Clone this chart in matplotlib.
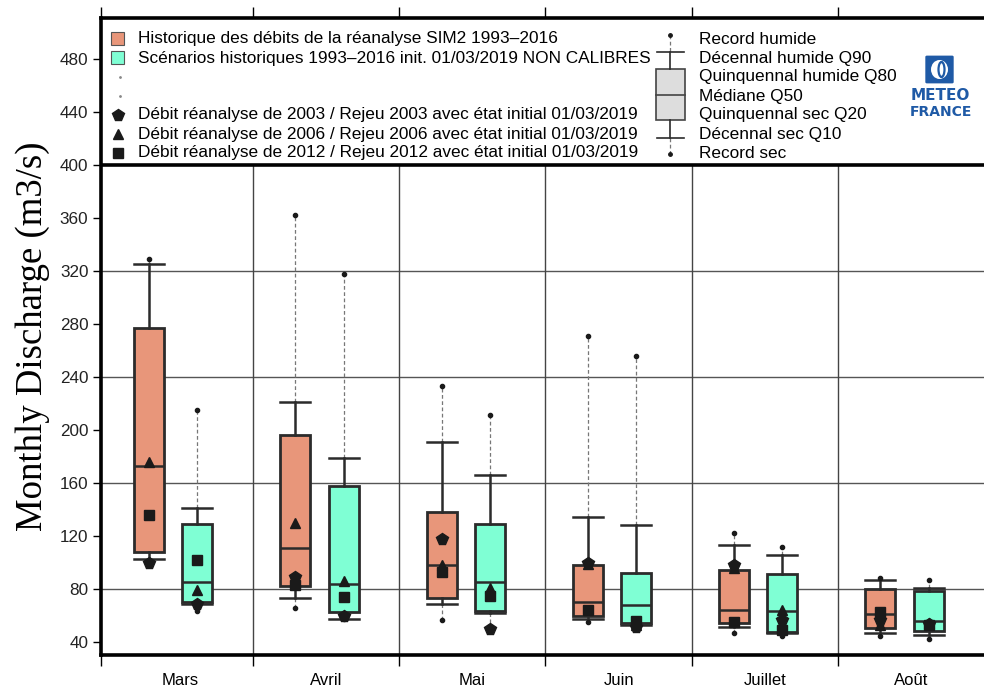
import matplotlib
matplotlib.use("Agg")
import matplotlib.pyplot as plt
from matplotlib.patches import Rectangle, FancyBboxPatch, Ellipse
from matplotlib.lines import Line2D

# ---------------- data ----------------
months = ['Mars', 'Avril', 'Mai', 'Juin', 'Juillet', 'Août']

# Historique réanalyse SIM2 1993-2016 (orange)
rea_rec_max = [329, 362, 233, 271, 122, 88.5]
rea_q90 = [325, 221, 191, 134, 113, 87]
rea_q80 = [277, 196, 138, 98, 94, 80]
rea_q50 = [173, 111, 98, 70, 64, 61]
rea_q20 = [108, 82, 73.5, 60, 54, 50.5]
rea_q10 = [103, 73, 69, 57, 51.5, 46.5]
rea_rec_min = [99, 66, 56.5, 55, 47, 44.5]
rea_2003 = [100, 89, 118, 100, 98, 56.5]
rea_2006 = [176, 130, 98, 99, 96, 53]
rea_2012 = [136, 83, 93, 64, 55, 63]

# Scénarios historiques init. 01/03/2019 (turquoise)
sc_rec_max = [215, 318, 211, 256, 112, 87]
sc_q90 = [141, 179, 166, 128.5, 106, 81]
sc_q80 = [129, 158, 129, 92, 91, 78.5]
sc_q50 = [85, 84, 85.5, 68, 63.5, 56]
sc_q20 = [70.5, 63, 63.5, 54, 47.5, 48]
sc_q10 = [69, 57.5, 62, 53, 46.5, 45.5]
sc_rec_min = [63.5, 57, 49.5, 52, 44.5, 42]
sc_2003 = [68.5, 60, 50, 51.5, 56.5, 53.5]
sc_2006 = [79, 86, 81, 53, 64, 54]
sc_2012 = [102, 74, 75, 56, 49, 53]

yticks = [40, 80, 120, 160, 200, 240, 280, 320, 360, 400, 440, 480]

ORANGE = '#E8967A'
TEAL = '#7FFFD4'
EDGE = '#2b2b2b'
FONT = 'Liberation Sans'

W, H = 984, 690
fig = plt.figure(figsize=(W / 100, H / 100), dpi=100)

def fx(x):
    return x / W

def fy(y):
    return 1 - y / H

ax_left, ax_right, ax_top, ax_bot = 101, 984, 18, 655
ax = fig.add_axes([fx(ax_left), fy(ax_bot), (ax_right - ax_left) / W, (ax_bot - ax_top) / H])
ax.set_xlim(-0.539, 5.498)
ax.set_ylim(30.2, 510.9)

# grid
for g in [80, 160, 240, 320]:
    ax.axhline(g, color='#555555', lw=1.0, zorder=0)
ax.vlines([0.5, 1.5, 2.5, 3.5, 4.5], 30.2, 400, color='#444444', lw=1.0, zorder=0)
ax.axhline(400, color='black', lw=2.6, zorder=1)

bw = 0.205

def draw_series(offset, color, rmax, q90, q80, q50, q20, q10, rmin, y03, y06, y12):
    stats = []
    pos = []
    for i in range(len(months)):
        stats.append(dict(med=q50[i], q1=q20[i], q3=q80[i], whislo=q10[i], whishi=q90[i], fliers=[]))
        pos.append(i + offset)
    ax.bxp(stats, positions=pos, widths=bw, patch_artist=True, showfliers=False,
           boxprops=dict(facecolor=color, edgecolor=EDGE, linewidth=2.0),
           medianprops=dict(color=EDGE, linewidth=1.8),
           whiskerprops=dict(color=EDGE, linewidth=1.8),
           capprops=dict(color=EDGE, linewidth=1.8), capwidths=bw, zorder=3)
    ax.vlines(pos, q90, rmax, colors='#777777', linestyles=(0, (3, 2)), lw=0.9, zorder=2)
    ax.vlines(pos, rmin, q10, colors='#777777', linestyles=(0, (3, 2)), lw=0.9, zorder=2)
    ax.plot(pos, rmax, 'o', color='#1a1a1a', ms=3, zorder=4, ls='none')
    ax.plot(pos, rmin, 'o', color='#1a1a1a', ms=3, zorder=4, ls='none')
    ax.plot(pos, y06, '^', color='#1a1a1a', ms=7.5, zorder=5, ls='none')
    ax.plot(pos, y03, 'p', color='#1a1a1a', ms=8.5, zorder=5, ls='none')
    ax.plot(pos, y12, 's', color='#1a1a1a', ms=6.5, zorder=5, ls='none')

draw_series(-0.21, ORANGE, rea_rec_max, rea_q90, rea_q80, rea_q50, rea_q20, rea_q10, rea_rec_min,
            rea_2003, rea_2006, rea_2012)
draw_series(0.12, TEAL, sc_rec_max, sc_q90, sc_q80, sc_q50, sc_q20, sc_q10, sc_rec_min,
            sc_2003, sc_2006, sc_2012)

# axes styling
for s in ['top', 'bottom', 'left']:
    ax.spines[s].set_linewidth(2.6)
    ax.spines[s].set_color('black')
ax.spines['right'].set_visible(False)

ax.set_yticks(yticks)
ax.set_yticklabels([str(v) for v in yticks], fontsize=12.3, family=FONT, color='#222222')
ax.tick_params(axis='y', direction='out', length=6, width=1.0, pad=3)

ax.set_xticks([-0.539, 0.5, 1.5, 2.5, 3.5, 4.5])
ax.set_xticklabels([])
ax.tick_params(axis='x', which='major', direction='out', length=8, width=1.0, top=True)
ax.set_xticks(range(len(months)), minor=True)
ax.set_xticklabels(months, minor=True, fontsize=12, family=FONT)
ax.tick_params(axis='x', which='minor', length=0, pad=13)

ax.set_ylabel('Monthly Discharge (m3/s)', fontsize=26.5, family='Liberation Serif', labelpad=7)

# ---------------- legend (left) ----------------
lfs = 12.4
rows = [39, 58, 77, 96, 115, 134, 153]
tx = 138
fig.patches.append(Rectangle((fx(111), fy(45)), 13 / W, 13 / H, transform=fig.transFigure,
                             facecolor=ORANGE, edgecolor='#555555', lw=0.8))
fig.patches.append(Rectangle((fx(111), fy(64)), 13 / W, 13 / H, transform=fig.transFigure,
                             facecolor=TEAL, edgecolor='#555555', lw=0.8))
fig.text(fx(tx), fy(rows[0]), 'Historique des débits de la réanalyse SIM2 1993–2016', fontsize=lfs,
         family=FONT, va='center', ha='left')
fig.text(fx(tx), fy(rows[1]), 'Scénarios historiques 1993–2016 init. 01/03/2019 NON CALIBRES', fontsize=lfs,
         family=FONT, va='center', ha='left')
for r in (rows[2], rows[3]):
    fig.lines.append(Line2D([fx(120)], [fy(r)], transform=fig.transFigure, marker='o', ms=1,
                            color='#888888', ls='none'))
for r, m, ms, lab in [(rows[4], 'p', 8.5, '2003'), (rows[5], '^', 7.5, '2006'), (rows[6], 's', 6.5, '2012')]:
    fig.lines.append(Line2D([fx(118)], [fy(r)], transform=fig.transFigure, marker=m, ms=ms,
                            color='#1a1a1a', ls='none'))
    fig.text(fx(tx), fy(r), f'Débit réanalyse de {lab} / Rejeu {lab} avec état initial 01/03/2019',
             fontsize=lfs, family=FONT, va='center', ha='left')

# ---------------- legend (right: boxplot key) ----------------
kx = 670
fig.lines.append(Line2D([fx(kx), fx(kx)], [fy(35), fy(52)], transform=fig.transFigure,
                        color='#777777', lw=0.9, ls=(0, (3, 2))))
fig.lines.append(Line2D([fx(kx), fx(kx)], [fy(138), fy(154)], transform=fig.transFigure,
                        color='#777777', lw=0.9, ls=(0, (3, 2))))
fig.lines.append(Line2D([fx(kx)], [fy(35)], transform=fig.transFigure, marker='o', ms=2.5,
                        color='#1a1a1a', ls='none'))
fig.lines.append(Line2D([fx(kx)], [fy(154)], transform=fig.transFigure, marker='o', ms=2.5,
                        color='#1a1a1a', ls='none'))
fig.lines.append(Line2D([fx(kx), fx(kx)], [fy(52), fy(69)], transform=fig.transFigure, color=EDGE, lw=1.2))
fig.lines.append(Line2D([fx(kx), fx(kx)], [fy(120), fy(138)], transform=fig.transFigure, color=EDGE, lw=1.2))
fig.lines.append(Line2D([fx(657), fx(684)], [fy(52), fy(52)], transform=fig.transFigure, color=EDGE, lw=1.2))
fig.lines.append(Line2D([fx(657), fx(684)], [fy(138), fy(138)], transform=fig.transFigure, color=EDGE, lw=1.2))
fig.patches.append(Rectangle((fx(656), fy(120)), 29 / W, 51 / H, transform=fig.transFigure,
                             facecolor='#DDDDDD', edgecolor='#444444', lw=1.2))
fig.lines.append(Line2D([fx(656), fx(685)], [fy(95), fy(95)], transform=fig.transFigure, color='#444444', lw=1.2))
key_labels = ['Record humide', 'Décennal humide Q90', 'Quinquennal humide Q80', 'Médiane Q50',
              'Quinquennal sec Q20', 'Décennal sec Q10', 'Record sec']
for r, lab in zip(rows, key_labels):
    fig.text(fx(699), fy(r), lab, fontsize=lfs, family=FONT, va='center', ha='left')

# ---------------- logo ----------------
LOGO = '#1F5AA6'
fig.patches.append(FancyBboxPatch((fx(927), fy(82)), 25 / W, 25 / H, transform=fig.transFigure,
                                  boxstyle='round,pad=0.001', facecolor=LOGO, edgecolor=LOGO))
fig.patches.append(Ellipse((fx(939.5), fy(69.5)), 17 / W, 19 / H, transform=fig.transFigure,
                           facecolor='white', edgecolor='none'))
fig.patches.append(Ellipse((fx(941.5), fy(69.5)), 6 / W, 15 / H, transform=fig.transFigure,
                           facecolor='none', edgecolor=LOGO, lw=1.6))
fig.text(fx(940.5), fy(95.5), 'METEO', fontsize=11, family='DejaVu Sans', weight='bold', color=LOGO,
         ha='center', va='center')
fig.text(fx(940.5), fy(112), 'FRANCE', fontsize=10, family='DejaVu Sans', weight='bold', color=LOGO,
         ha='center', va='center')

fig.savefig('out.png', dpi=100)
